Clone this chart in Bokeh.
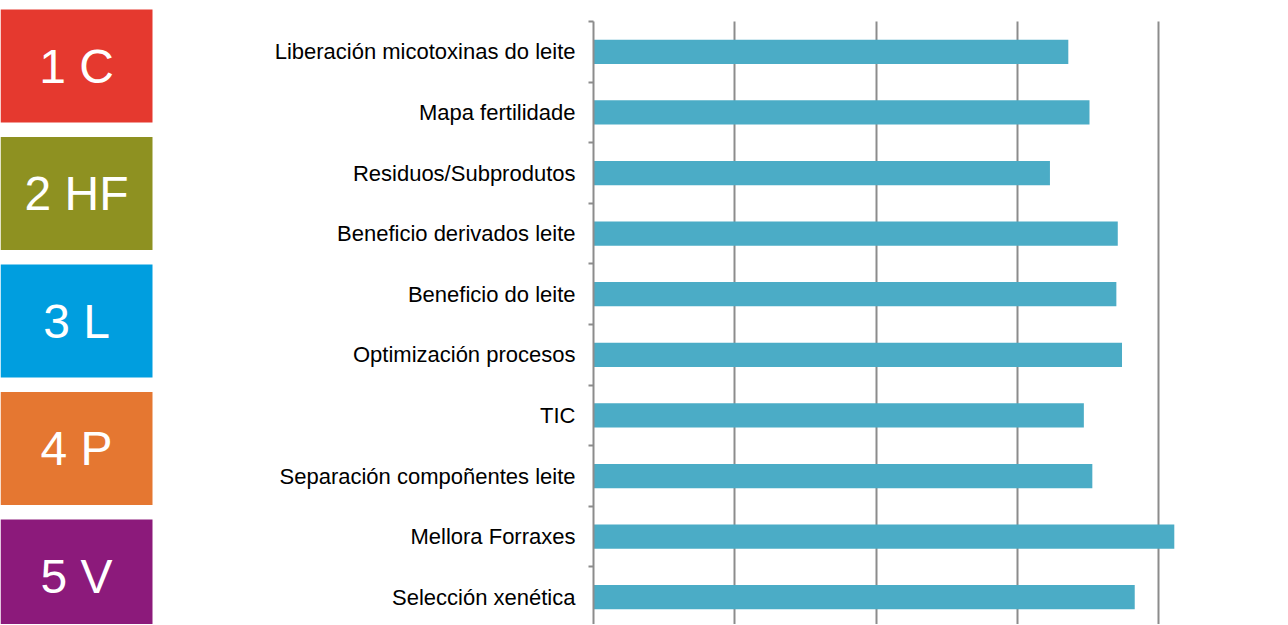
from bokeh.plotting import figure
from bokeh.models import Range1d, FixedTicker, ColumnDataSource
from bokeh.layouts import row
from bokeh.embed import file_html
from bokeh.resources import INLINE
from bokeh.core.properties import value

# ---- data ----
categories = [
    "Liberación micotoxinas do leite",
    "Mapa fertilidade",
    "Residuos/Subprodutos",
    "Beneficio derivados leite",
    "Beneficio do leite",
    "Optimización procesos",
    "TIC",
    "Separación compoñentes leite",
    "Mellora Forraxes",
    "Selección xenética",
]
scores = [3.36, 3.51, 3.23, 3.71, 3.70, 3.74, 3.47, 3.53, 4.11, 3.83]
x_ticks = [0, 1, 2, 3, 4, 5]

box_labels = ["1 C", "2 HF", "3 L", "4 P", "5 V"]
box_colors = ["#E5392F", "#8E9121", "#009EDF", "#E57731", "#8C1A7B"]

FONT = "Liberation Sans"
GRID = "#8C8C8C"
H = 624

# ---- left coloured boxes ----
left = figure(width=160, height=H, output_backend="svg", toolbar_location=None,
              x_range=Range1d(0, 1.0526), y_range=Range1d(4.380, -0.5137),
              min_border_left=0, min_border_right=0, min_border_top=0, min_border_bottom=0,
              outline_line_color=None)
left.axis.visible = False
left.grid.visible = False
bsrc = ColumnDataSource(dict(y=list(range(len(box_labels))), label=box_labels, color=box_colors,
                             x=[0.5] * len(box_labels)))
left.rect(x="x", y="y", width=1, height=0.886, fill_color="color", line_color=None, source=bsrc)
left.text(x="x", y="y", text="label", text_color="white", text_align="center",
          text_baseline="middle", text_font=value(FONT), text_font_size="48px", source=bsrc)

# ---- bar chart ----
idx = list(range(len(categories)))
y_lo, y_hi = -0.5, 9.45
p = figure(width=1126, height=H, output_backend="svg", toolbar_location=None,
           x_range=Range1d(0, 4.904), y_range=Range1d(y_hi, -0.8465),
           min_border_left=433, min_border_right=0, min_border_top=0, min_border_bottom=0,
           outline_line_color=None)
src = ColumnDataSource(dict(y=idx, v=scores))
p.hbar(y="y", left=0, right="v", height=0.4, fill_color="#4BACC6", line_color=None, source=src)

p.xaxis.visible = False
p.xaxis.ticker = FixedTicker(ticks=x_ticks)
p.xgrid.grid_line_color = GRID
p.xgrid.grid_line_width = 2
p.xgrid.cross_bounds = (y_lo, y_hi)
p.ygrid.visible = False

yax = p.yaxis[0]
yax.bounds = (y_lo, y_hi)
yax.ticker = FixedTicker(ticks=idx, minor_ticks=[i - 0.5 for i in range(len(categories) + 1)])
yax.major_label_overrides = {i: c for i, c in zip(idx, categories)}
yax.major_tick_out = 0
yax.major_tick_in = 0
yax.minor_tick_out = 5
yax.minor_tick_in = 0
yax.minor_tick_line_color = GRID
yax.minor_tick_line_width = 2
yax.axis_line_color = GRID
yax.axis_line_width = 2
yax.major_label_standoff = 13
yax.major_label_text_font = FONT
yax.major_label_text_font_size = "22px"
yax.major_label_text_color = "#000000"

layout = row(left, p)
open("out.html", "w").write(file_html(layout, INLINE))
